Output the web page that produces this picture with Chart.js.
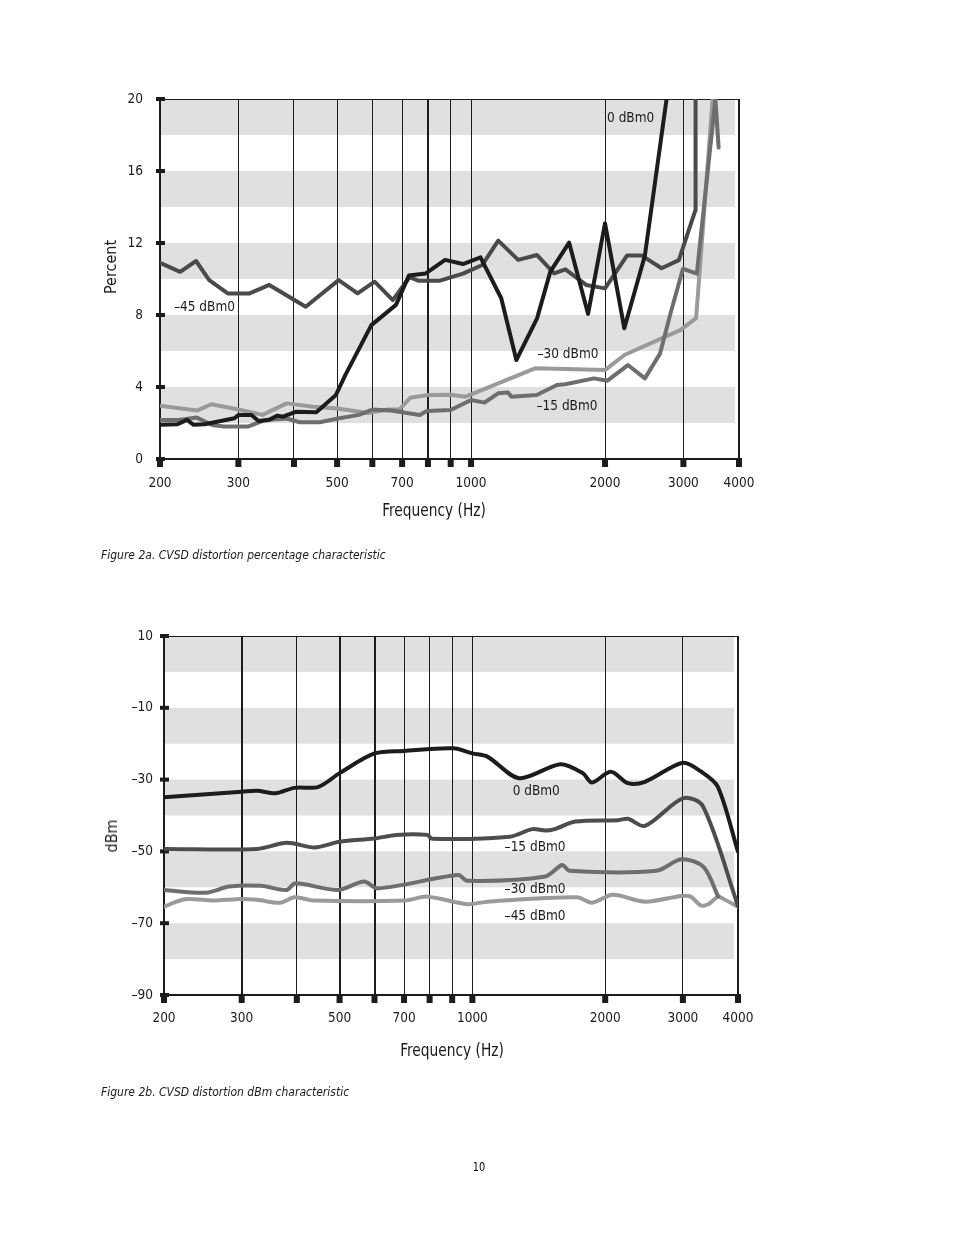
<!DOCTYPE html>
<html>
<head>
<meta charset="utf-8">
<title>CVSD distortion characteristics</title>
<script src="https://cdn.jsdelivr.net/npm/chart.js@4.4.1/dist/chart.umd.min.js"></script>
<style>
  body { margin: 0; background: #fff; }
  #page {
    position: relative;
    width: 954px;
    height: 1235px;
    overflow: hidden;
    color: #1a1a1a;
    font-family: 'Liberation Sans Narrow', 'DejaVu Sans Condensed', 'Liberation Sans', Arial, sans-serif;
  }
  canvas { position: absolute; left: 0; }
  #chart-percent { top: 0; }
  #chart-dbm { top: 580px; }
  .txt { position: absolute; white-space: nowrap; line-height: 1; color: #1a1a1a; }
  .axis-title { font-size: 17px; transform: translate(-50%, -50%) scaleX(0.9); }
  .y-title { font-size: 16px; transform: translate(-50%, -50%) rotate(-90deg); }
  .caption { font-size: 12px; font-style: italic; transform: translateY(-50%); }
  .folio { font-size: 12px; color: #000; filter: grayscale(1); transform: translate(-50%, -50%) scaleX(0.9); }
</style>
</head>
<body>
<div id="page">
  <canvas id="chart-percent" width="954" height="580"></canvas>
  <canvas id="chart-dbm" width="954" height="520"></canvas>

  <div class="txt y-title" style="left:111px; top:267px;">Percent</div>
  <div class="txt axis-title" style="left:434px; top:510px;">Frequency (Hz)</div>
  <div class="txt caption" style="left:101px; top:555px;">Figure 2a. CVSD distortion percentage characteristic</div>

  <div class="txt y-title" style="left:112px; top:836px;">dBm</div>
  <div class="txt axis-title" style="left:452px; top:1050px;">Frequency (Hz)</div>
  <div class="txt caption" style="left:101px; top:1092px;">Figure 2b. CVSD distortion dBm characteristic</div>

  <div class="txt folio" style="left:479px; top:1167px;">10</div>
</div>

<script>
const FONT = "'Liberation Sans Narrow', 'DejaVu Sans Condensed', 'Liberation Sans', Arial, sans-serif";

// shared frequency axis
const freqTicks = [200, 300, 400, 500, 600, 700, 800, 900, 1000, 2000, 3000, 4000];
const freqLabels = [200, 300, 500, 700, 1000, 2000, 3000, 4000];

// Figure 2a - distortion in percent
const pctTicks = [0, 4, 8, 12, 16, 20];

const pctFreq0 = [200, 219, 230, 238, 252, 294, 300, 321, 333, 351, 367, 378, 405, 449, 497, 522, 597, 678, 725, 790, 874, 959, 1050, 1169, 1264, 1407, 1507, 1661, 1832, 2000, 2210, 2458, 2750];
const pctVal0 = [1.9, 1.93, 2.17, 1.9, 1.93, 2.26, 2.44, 2.44, 2.11, 2.17, 2.41, 2.35, 2.63, 2.6, 3.56, 4.67, 7.44, 8.56, 10.19, 10.3, 11.06, 10.83, 11.2, 8.93, 5.5, 7.81, 10.41, 12.02, 8.06, 13.09, 7.26, 11.3, 20];

const pctFreq15 = [200, 220, 242, 262, 278, 315, 345, 385, 412, 457, 506, 560, 600, 660, 767, 795, 900, 1000, 1072, 1150, 1211, 1232, 1405, 1559, 1629, 1888, 2025, 2251, 2458, 2660, 2800, 2993, 3216, 3540, 3600];
const pctVal15 = [2.17, 2.17, 2.3, 1.89, 1.8, 1.8, 2.17, 2.25, 2.04, 2.04, 2.26, 2.45, 2.75, 2.7, 2.45, 2.67, 2.72, 3.28, 3.13, 3.65, 3.7, 3.46, 3.56, 4.11, 4.15, 4.48, 4.35, 5.22, 4.48, 5.87, 8.0, 10.57, 10.3, 20, 17.3];

const pctFreq30 = [200, 242, 261, 300, 340, 385, 442, 500, 587, 650, 690, 730, 800, 900, 973, 1392, 2000, 2211, 2958, 3204, 3490];
const pctVal30 = [2.96, 2.69, 3.04, 2.75, 2.45, 3.09, 2.9, 2.8, 2.55, 2.75, 2.75, 3.4, 3.55, 3.57, 3.46, 5.04, 4.94, 5.78, 7.17, 7.83, 20];

const pctFreq45 = [200, 222, 241, 258, 284, 318, 352, 425, 504, 556, 607, 667, 727, 763, 848, 959, 1060, 1151, 1276, 1407, 1537, 1629, 1814, 2000, 2240, 2420, 2680, 2930, 3190, 3195];
const pctVal45 = [10.9, 10.4, 11.0, 9.94, 9.2, 9.2, 9.67, 8.46, 9.94, 9.2, 9.85, 8.83, 10.1, 9.9, 9.9, 10.3, 10.78, 12.13, 11.06, 11.33, 10.31, 10.54, 9.67, 9.48, 11.3, 11.3, 10.6, 11.05, 13.8, 20];

// Figure 2b - distortion in dBm
const dbmTicks = [-90, -70, -50, -30, -10, 10];

const dbmFreq0 = [200, 300, 325, 358, 395, 448, 500, 600, 700, 905, 1000, 1081, 1276, 1582, 1779, 1867, 2060, 2252, 2462, 3000, 3302, 3600, 4000];
const dbmVal0 = [-34.9, -33.4, -33.1, -33.8, -32.3, -32.0, -28.2, -22.7, -22.0, -21.3, -22.7, -23.6, -29.6, -25.7, -28.2, -30.8, -27.8, -31.0, -30.6, -25.3, -27.8, -32.0, -50.1];

const dbmFreq15 = [200, 325, 380, 439, 500, 600, 673, 790, 810, 1216, 1367, 1463, 1537, 1711, 2143, 2252, 2462, 3000, 3330, 4000];
const dbmVal15 = [-49.3, -49.3, -47.6, -48.9, -47.3, -46.4, -45.4, -45.4, -46.5, -45.9, -43.8, -44.2, -43.8, -41.7, -41.3, -40.9, -42.9, -35.2, -37.4, -65.2];

const dbmFreq30 = [200, 249, 281, 332, 379, 397, 496, 568, 610, 928, 975, 1463, 1598, 1661, 2612, 2975, 3340, 3608];
const dbmVal30 = [-60.75, -61.5, -59.8, -59.6, -60.75, -58.9, -60.75, -58.4, -60.3, -56.6, -58.2, -57.0, -53.8, -55.4, -55.4, -52.2, -54.3, -62.6];

const dbmFreq45 = [200, 223, 259, 292, 325, 367, 395, 439, 703, 790, 975, 1081, 1728, 1867, 2080, 2462, 2975, 3125, 3290, 3425, 3608, 3700, 4000];
const dbmVal45 = [-65.4, -63.3, -63.7, -63.3, -63.5, -64.3, -62.8, -63.7, -63.7, -62.6, -64.7, -64.0, -62.8, -64.3, -62.1, -64.0, -62.4, -62.6, -65.0, -64.7, -62.6, -63.2, -65.4];

// curve captions, anchored in data coordinates (left edge of the text)
const pctCaptions = [
  { text: '0 dBm0', freq: 2021, value: 18.94 },
  { text: '\u201345 dBm0', freq: 215, value: 8.39 },
  { text: '\u201330 dBm0', freq: 1410, value: 5.83 },
  { text: '\u201315 dBm0', freq: 1403, value: 2.89 },
];
const dbmCaptions = [
  { text: '0 dBm0', freq: 1234, value: -33.45 },
  { text: '\u201315 dBm0', freq: 1183, value: -49.05 },
  { text: '\u201330 dBm0', freq: 1183, value: -60.5 },
  { text: '\u201345 dBm0', freq: 1183, value: -68.0 },
];

const INK = '#1c1c1c';

function points(freqs, values) {
  return freqs.map((f, i) => ({ x: f, y: values[i] }));
}

function dash(v) {
  return v < 0 ? '\u2013' + Math.abs(v) : String(v);
}

// grey bands, frame, square tick marks and curve captions
const paperPlugin = {
  id: 'paper',
  beforeDraw(chart, _args, opts) {
    const { ctx, chartArea: a } = chart;
    const y = chart.scales.y;
    ctx.save();
    ctx.fillStyle = '#e0e0e0';
    opts.ticks.forEach((t) => {
      if (t - opts.bandHeight < y.min - 1e-9) return;
      const top = y.getPixelForValue(t);
      const bottom = y.getPixelForValue(t - opts.bandHeight);
      ctx.fillRect(a.left, top, a.right - a.left - 4, bottom - top);
    });
    ctx.restore();
  },
  beforeDatasetsDraw(chart, _args, opts) {
    const { ctx, chartArea: a } = chart;
    const x = chart.scales.x;
    const y = chart.scales.y;
    ctx.save();
    ctx.strokeStyle = INK;
    ctx.lineWidth = 1;
    ctx.beginPath();
    ctx.moveTo(a.left, a.top + 0.5);
    ctx.lineTo(a.right, a.top + 0.5);
    ctx.stroke();
    ctx.lineWidth = 2;
    ctx.beginPath();
    ctx.moveTo(a.left, a.top);
    ctx.lineTo(a.left, a.bottom);
    ctx.lineTo(a.right, a.bottom);
    ctx.lineTo(a.right, a.top);
    ctx.stroke();

    ctx.fillStyle = INK;
    opts.ticks.forEach((t) => {
      const py = y.getPixelForValue(t);
      ctx.fillRect(a.left - 4, py - 2, 9, 4);
    });
    freqTicks.forEach((f) => {
      const px = x.getPixelForValue(f);
      ctx.fillRect(px - 3, a.bottom - 1, 6, 9);
    });
    ctx.restore();
  },
  afterDatasetsDraw(chart, _args, opts) {
    const { ctx } = chart;
    const x = chart.scales.x;
    const y = chart.scales.y;
    ctx.save();
    ctx.fillStyle = INK;
    ctx.font = `13.5px ${FONT}`;
    ctx.textAlign = 'left';
    ctx.textBaseline = 'middle';
    opts.captions.forEach((c) => {
      ctx.fillText(c.text, x.getPixelForValue(c.freq), y.getPixelForValue(c.value));
    });
    ctx.restore();
  },
};

function line(data, color, tension) {
  return {
    data,
    borderColor: color,
    backgroundColor: color,
    borderWidth: 4,
    pointRadius: 0,
    tension,
    borderJoinStyle: 'round',
    borderCapStyle: 'round',
  };
}

function buildChart(canvasId, cfg) {
  const canvas = document.getElementById(canvasId);
  const area = cfg.area;
  return new Chart(canvas.getContext('2d'), {
    type: 'line',
    data: { datasets: cfg.datasets },
    plugins: [paperPlugin],
    options: {
      responsive: false,
      animation: false,
      events: [],
      layout: {
        padding: { left: 0, top: area.top, right: canvas.width - area.right, bottom: 0 },
      },
      plugins: {
        legend: { display: false },
        tooltip: { enabled: false },
        paper: { ticks: cfg.yTicks, bandHeight: cfg.bandHeight, captions: cfg.captions },
      },
      scales: {
        x: {
          type: 'logarithmic',
          min: 200,
          max: 4000,
          afterBuildTicks(scale) {
            scale.ticks = freqTicks.map((value) => ({ value }));
          },
          afterFit(scale) {
            scale.height = canvas.height - area.bottom;
          },
          border: { display: false },
          grid: {
            color: INK,
            lineWidth: (ctx) => (ctx.tick && cfg.thickLines.includes(ctx.tick.value) ? 2 : 1),
            drawTicks: false,
          },
          ticks: {
            autoSkip: false,
            maxRotation: 0,
            minRotation: 0,
            padding: cfg.xLabelPad,
            color: INK,
            font: { family: FONT, size: 13.5 },
            callback: (value) => (freqLabels.includes(value) ? String(value) : ''),
          },
        },
        y: {
          type: 'linear',
          min: cfg.yTicks[0],
          max: cfg.yTicks[cfg.yTicks.length - 1],
          afterBuildTicks(scale) {
            scale.ticks = cfg.yTicks.map((value) => ({ value }));
          },
          afterFit(scale) {
            scale.width = area.left;
          },
          border: { display: false },
          grid: { display: false, drawTicks: false },
          ticks: {
            padding: cfg.yLabelPad,
            color: INK,
            font: { family: FONT, size: 13.5 },
            callback: (value) => dash(value),
          },
        },
      },
    },
  });
}

buildChart('chart-percent', {
  area: { left: 160, top: 99, right: 739, bottom: 459 },
  yTicks: pctTicks,
  bandHeight: 2,
  thickLines: [800],
  xLabelPad: 16,
  yLabelPad: 17,
  captions: pctCaptions,
  datasets: [
    line(points(pctFreq0, pctVal0), '#1c1c1c', 0),
    line(points(pctFreq45, pctVal45), '#4a4a4a', 0),
    line(points(pctFreq15, pctVal15), '#6e6e6e', 0),
    line(points(pctFreq30, pctVal30), '#9a9a9a', 0),
  ],
});

buildChart('chart-dbm', {
  area: { left: 164, top: 56, right: 738, bottom: 415 },
  yTicks: dbmTicks,
  bandHeight: 10,
  thickLines: [300, 500, 600],
  xLabelPad: 15,
  yLabelPad: 11,
  captions: dbmCaptions,
  datasets: [
    line(points(dbmFreq0, dbmVal0), '#1c1c1c', 0.3),
    line(points(dbmFreq15, dbmVal15), '#4d4d4d', 0.3),
    line(points(dbmFreq30, dbmVal30), '#6e6e6e', 0.3),
    line(points(dbmFreq45, dbmVal45), '#9a9a9a', 0.3),
  ],
});
</script>
</body>
</html>
